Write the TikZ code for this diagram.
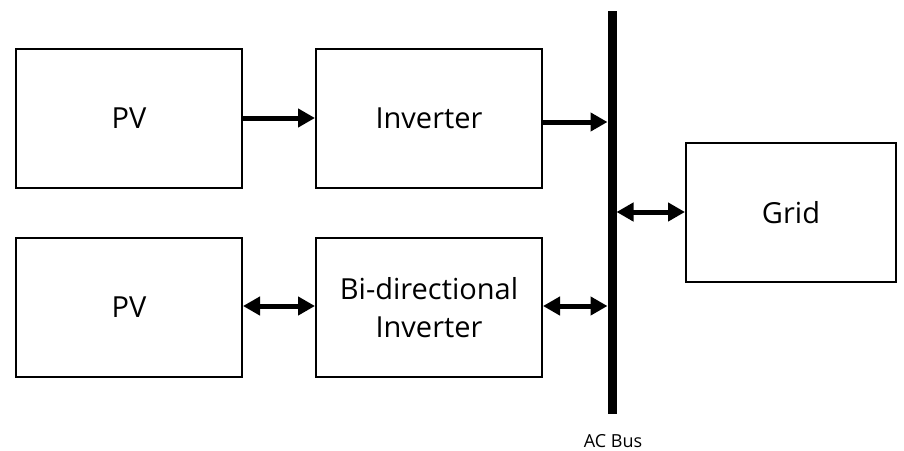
\documentclass[tikz,border=0pt]{standalone}
\usepackage{fontspec}
\setmainfont{Open Sans}
\usetikzlibrary{arrows.meta}
\begin{document}
\begin{tikzpicture}[x=1pt,y=-1pt,
  block/.style={draw, line width=2pt, minimum width=226pt, minimum height=139pt,
    anchor=north west, font=\fontsize{29}{38}\selectfont, align=center, inner sep=0pt},
  flow/.style={line width=5pt, -{Triangle[length=17pt,width=18pt]}},
  biflow/.style={line width=5pt, {Triangle[length=17pt,width=18pt]}-{Triangle[length=17pt,width=18pt]}}]
  \useasboundingbox (0,0) rectangle (904,450);
  % blocks
  \node[block] (pv1) at (15,48) {PV};
  \node[block] (inv) at (315,48) {Inverter};
  \node[block] (pv2) at (15,237) {PV};
  \node[block] (bdi) at (315,237) {Bi-directional\\Inverter};
  \node[block, minimum width=210pt] (grid) at (685,142) {Grid};
  % AC bus bar
  \coordinate (bustop) at (612,11);
  \coordinate (busbot) at (612,414);
  \draw[line width=9pt] (bustop) -- (busbot);
  \node[font=\fontsize{18}{22}\selectfont, anchor=base] (buslabel) at (613,447) {AC Bus};
  % connectors
  \coordinate (b1) at (607.5,122);
  \coordinate (b2) at (607.5,306);
  \coordinate (b3) at (616.5,212);
  \draw[flow] (pv1.east |- 0,118) -- (inv.west |- 0,118);
  \draw[flow] (inv.east |- b1) -- (b1);
  \draw[biflow] (pv2.east |- 0,306) -- (bdi.west |- 0,306);
  \draw[biflow] (bdi.east |- b2) -- (b2);
  \draw[biflow] (b3) -- (grid.west |- b3);
\end{tikzpicture}
\end{document}
